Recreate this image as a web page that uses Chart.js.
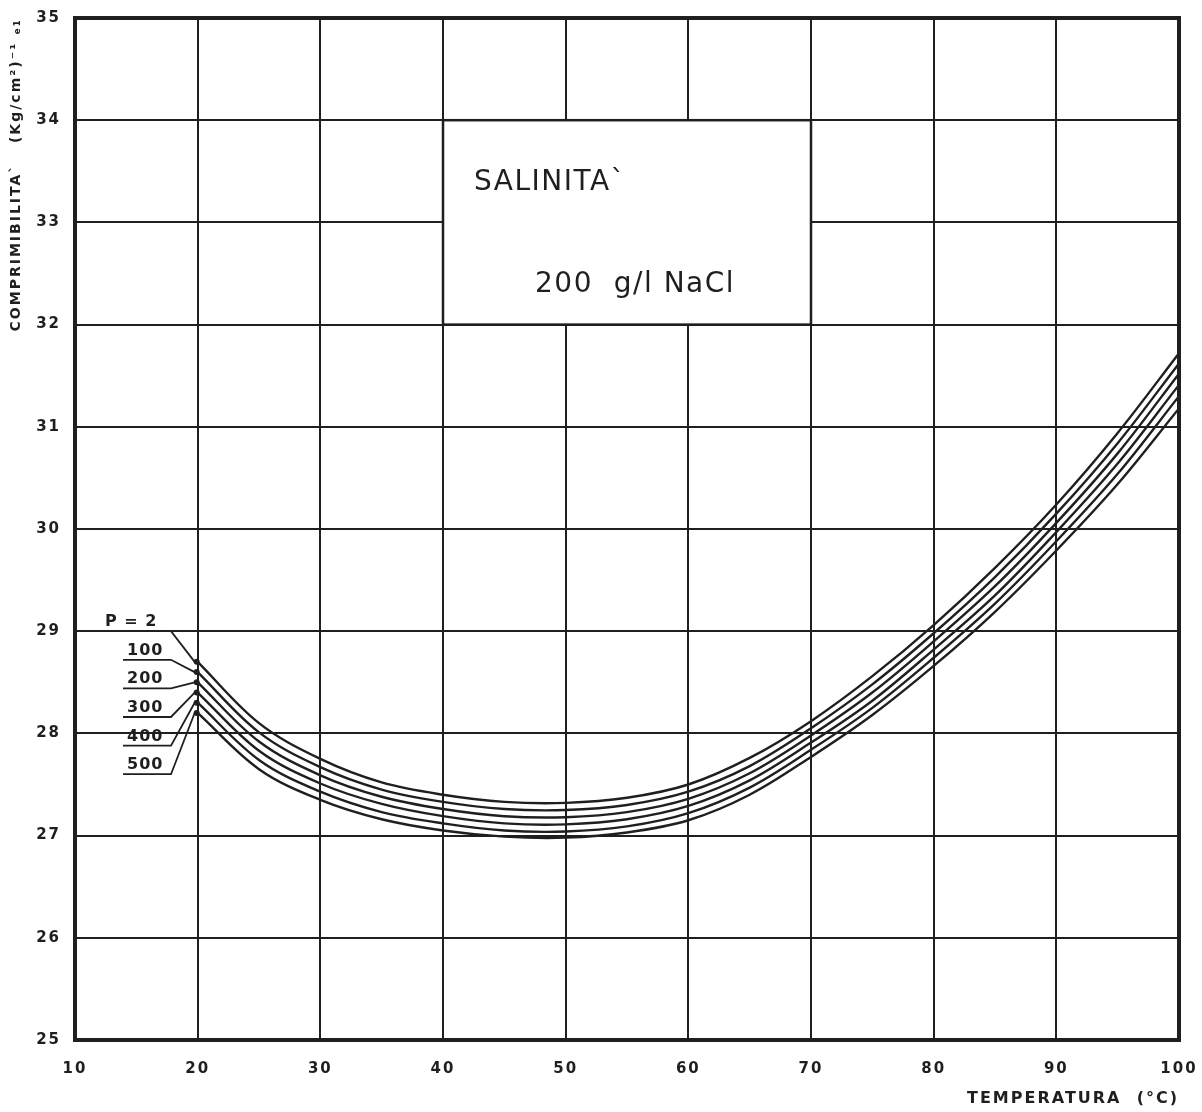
<!DOCTYPE html>
<html>
<head>
<meta charset="utf-8">
<script src="https://cdn.jsdelivr.net/npm/chart.js@4.4.1/dist/chart.umd.min.js"></script>
<style>
  html, body { margin: 0; padding: 0; background: #ffffff; }
  #wrap { width: 1202px; height: 1112px; }
</style>
</head>
<body>
<div id="wrap"><canvas id="compressChart" width="1202" height="1112"></canvas></div>
<script>
// temperature (°C) and compressibility for each pressure curve
const temperatures = [20, 25, 30, 35, 40, 45, 50, 55, 60, 65, 70, 75, 80, 85, 90, 95, 100];
const pressures = ['P = 2', '100', '200', '300', '400', '500'];

const p2   = [28.70, 28.10, 27.75, 27.52, 27.40, 27.33, 27.32, 27.37, 27.50, 27.76, 28.12, 28.56, 29.06, 29.62, 30.24, 30.94, 31.72];
const p100 = [28.60, 28.01, 27.67, 27.45, 27.33, 27.26, 27.25, 27.30, 27.43, 27.68, 28.05, 28.48, 28.98, 29.53, 30.15, 30.84, 31.62];
const p200 = [28.50, 27.92, 27.59, 27.38, 27.26, 27.19, 27.18, 27.23, 27.36, 27.61, 27.98, 28.40, 28.90, 29.44, 30.06, 30.74, 31.52];
const p300 = [28.40, 27.83, 27.51, 27.31, 27.19, 27.12, 27.11, 27.16, 27.29, 27.54, 27.91, 28.32, 28.82, 29.35, 29.97, 30.64, 31.41];
const p400 = [28.30, 27.74, 27.43, 27.23, 27.12, 27.05, 27.04, 27.09, 27.22, 27.47, 27.84, 28.25, 28.74, 29.27, 29.88, 30.54, 31.30];
const p500 = [28.20, 27.65, 27.35, 27.16, 27.05, 26.99, 26.98, 27.03, 27.15, 27.40, 27.77, 28.18, 28.66, 29.19, 29.79, 30.44, 31.18];

const seriesValues = [p2, p100, p200, p300, p400, p500];
const xTicks = [10, 20, 30, 40, 50, 60, 70, 80, 90, 100];
const yTicks = [25, 26, 27, 28, 29, 30, 31, 32, 33, 34, 35];

const ink = '#1f1f1f';
const font = 'DejaVu Sans';

// stencil-style lettering: spaced out axis text
const spacing = {
    id: 'spacing',
    beforeInit: (chart) => { chart.ctx.letterSpacing = '2px'; },
    beforeDraw: (chart) => { chart.ctx.letterSpacing = '2px'; }
};

// white caption box sitting on the grid
const captionBox = {
    id: 'captionBox',
    beforeDatasetsDraw: (chart) => {
        const ctx = chart.ctx;
        const x = chart.scales.x;
        const y = chart.scales.y;
        const left = x.getPixelForValue(40);
        const right = x.getPixelForValue(70);
        const top = y.getPixelForValue(34);
        const bottom = y.getPixelForValue(32);
        ctx.save();
        ctx.letterSpacing = '1.5px';
        ctx.fillStyle = '#ffffff';
        ctx.fillRect(left, top, right - left, bottom - top);
        ctx.strokeStyle = ink;
        ctx.lineWidth = 2.5;
        ctx.strokeRect(left, top, right - left, bottom - top);
        ctx.fillStyle = ink;
        ctx.textBaseline = 'middle';
        ctx.font = '28px "' + font + '"';
        ctx.fillText('SALINITA`', left + 31, top + 63);
        ctx.fillText('200  g/l NaCl', left + 92, top + 165);
        ctx.restore();
    }
};

// pressure labels with leader lines to the start of each curve
const curveLabels = {
    id: 'curveLabels',
    afterDatasetsDraw: (chart) => {
        const ctx = chart.ctx;
        const x = chart.scales.x;
        const y = chart.scales.y;
        const endX = x.getPixelForValue(temperatures[0]);
        const baseY = y.getPixelForValue(29);
        ctx.save();
        ctx.letterSpacing = '1px';
        ctx.strokeStyle = ink;
        ctx.fillStyle = ink;
        ctx.lineWidth = 1.8;
        ctx.font = 'bold 16px "' + font + '"';
        ctx.textBaseline = 'alphabetic';
        pressures.forEach((name, i) => {
            const lineY = baseY + i * 28.6;
            const endY = y.getPixelForValue(seriesValues[i][0]);
            const textX = i === 0 ? 105 : 127;
            ctx.fillText(name, textX, lineY - 5);
            ctx.beginPath();
            ctx.moveTo(123, lineY);
            ctx.lineTo(171, lineY);
            ctx.lineTo(endX - 3, endY);
            ctx.stroke();
            ctx.beginPath();
            ctx.arc(endX - 1, endY, 3, 0, Math.PI * 2);
            ctx.fill();
        });
        ctx.restore();
    }
};

// heavy outer frame
const frame = {
    id: 'frame',
    afterDraw: (chart) => {
        const { left, top, right, bottom } = chart.chartArea;
        const ctx = chart.ctx;
        ctx.save();
        ctx.strokeStyle = ink;
        ctx.lineWidth = 4;
        ctx.strokeRect(left, top, right - left, bottom - top);
        ctx.restore();
    }
};

const datasets = pressures.map((name, i) => ({
    label: name,
    data: temperatures.map((t, j) => ({ x: t, y: seriesValues[i][j] })),
    borderColor: ink,
    borderWidth: 2.4,
    pointRadius: 0,
    tension: 0.35,
    fill: false
}));

const config = {
    type: 'line',
    data: { datasets: datasets },
    plugins: [spacing, captionBox, curveLabels, frame],
    options: {
        responsive: false,
        animation: false,
        layout: {
            padding: { left: 0, top: 18, right: 23, bottom: 0 }
        },
        plugins: {
            legend: { display: false },
            tooltip: { enabled: false }
        },
        scales: {
            x: {
                type: 'linear',
                min: 10,
                max: 100,
                afterFit: (scale) => {
                    scale.height = 72;
                    scale.paddingLeft = 0;
                    scale.paddingRight = 0;
                },
                afterBuildTicks: (scale) => { scale.ticks = xTicks.map(v => ({ value: v })); },
                grid: { color: ink, lineWidth: 2, drawTicks: false },
                border: { display: false },
                ticks: {
                    color: ink,
                    padding: 20,
                    font: { family: font, size: 15, weight: 'bold' }
                },
                title: {
                    display: true,
                    text: 'TEMPERATURA  (°C)',
                    align: 'end',
                    color: ink,
                    padding: { top: 4 },
                    font: { family: font, size: 16, weight: 'bold' }
                }
            },
            y: {
                type: 'linear',
                min: 25,
                max: 35,
                afterFit: (scale) => {
                    scale.width = 75;
                    scale.paddingTop = 0;
                    scale.paddingBottom = 0;
                },
                afterBuildTicks: (scale) => { scale.ticks = yTicks.map(v => ({ value: v })); },
                grid: { color: ink, lineWidth: 2, drawTicks: false },
                border: { display: false },
                ticks: {
                    color: ink,
                    padding: 14,
                    font: { family: font, size: 15, weight: 'bold' }
                },
                title: {
                    display: true,
                    text: 'COMPRIMIBILITA`   (Kg/cm²)⁻¹ ₑ₁',
                    align: 'end',
                    color: ink,
                    padding: { top: 8, bottom: 0 },
                    font: { family: font, size: 14, weight: 'bold' }
                }
            }
        }
    }
};

new Chart(document.getElementById('compressChart'), config);
</script>
</body>
</html>
